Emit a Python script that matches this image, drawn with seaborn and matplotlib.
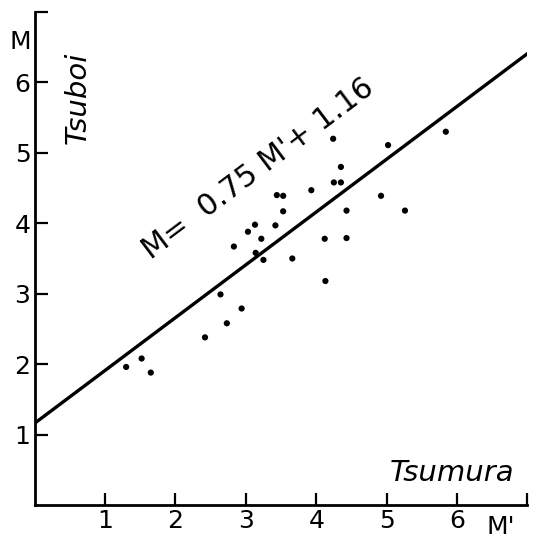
import matplotlib
matplotlib.use("Agg")
import matplotlib.pyplot as plt
import seaborn as sns
import pandas as pd
import numpy as np

# Data
tsumura = [1.30, 1.52, 1.65, 2.42, 2.64, 2.73, 2.94, 2.83, 3.03, 3.13, 3.22,
           3.14, 3.25, 3.42, 3.44, 3.53, 3.53, 3.66, 3.93, 4.12, 4.13, 4.24,
           4.25, 4.35, 4.35, 4.43, 4.43, 4.92, 5.02, 5.26, 5.84]
tsuboi = [1.96, 2.08, 1.88, 2.38, 2.99, 2.58, 2.79, 3.67, 3.88, 3.98, 3.78,
          3.58, 3.48, 3.97, 4.40, 4.39, 4.17, 3.50, 4.47, 3.78, 3.18, 5.20,
          4.58, 4.58, 4.80, 4.18, 3.79, 4.39, 5.11, 4.18, 5.30]
slope = 0.75
intercept = 1.16
line_x = [0.0, 7.0]
tick_values = [1, 2, 3, 4, 5, 6, 7]
tick_labels = ["1", "2", "3", "4", "5", "6", ""]
equation = "M=  0.75 M'+ 1.16"

sns.set_style("ticks")
plt.rcParams["font.family"] = ["DejaVu Sans"]
plt.rcParams["text.color"] = "black"

df = pd.DataFrame({"x": tsumura, "y": tsuboi})
line_df = pd.DataFrame({"x": line_x, "y": [slope * v + intercept for v in line_x]})

fig = plt.figure(figsize=(5.34, 5.48), dpi=100)
ax = fig.add_axes([0.0648, 0.0785, 0.923, 0.8996])

sns.lineplot(data=line_df, x="x", y="y", ax=ax, color="black", linewidth=2.4)
sns.scatterplot(data=df, x="x", y="y", ax=ax, color="black", s=20,
                edgecolor="none", zorder=3)

ax.set_xlim(0, 7)
ax.set_ylim(0, 7)
ax.set_xticks(tick_values)
ax.set_xticklabels(tick_labels)
ax.set_yticks(tick_values)
ax.set_yticklabels(tick_labels)
ax.set_xlabel("")
ax.set_ylabel("")

for side in ["top", "right"]:
    ax.spines[side].set_visible(False)
for side in ["left", "bottom"]:
    ax.spines[side].set_linewidth(2.0)
    ax.spines[side].set_color("black")

ax.tick_params(axis="both", direction="in", length=9, width=1.6,
               labelsize=18, colors="black", pad=3)

ax.text(-0.21, 6.58, "M", fontsize=18, ha="center", va="center", color="black")
ax.annotate("M'", xy=(6.62, 0), xycoords="data", xytext=(0, -7),
            textcoords="offset points", ha="center", va="top", fontsize=18,
            color="black")
ax.text(0.61, 5.78, "Tsuboi", fontsize=21, style="italic", rotation=90,
        ha="center", va="center", color="black")
ax.text(5.93, 0.45, "Tsumura", fontsize=21, style="italic",
        ha="center", va="center", color="black")
ax.text(3.18, 4.78, equation, fontsize=21.5, rotation=36.9,
        rotation_mode="anchor", ha="center", va="center", color="black")

fig.savefig("out.png", dpi=100)
